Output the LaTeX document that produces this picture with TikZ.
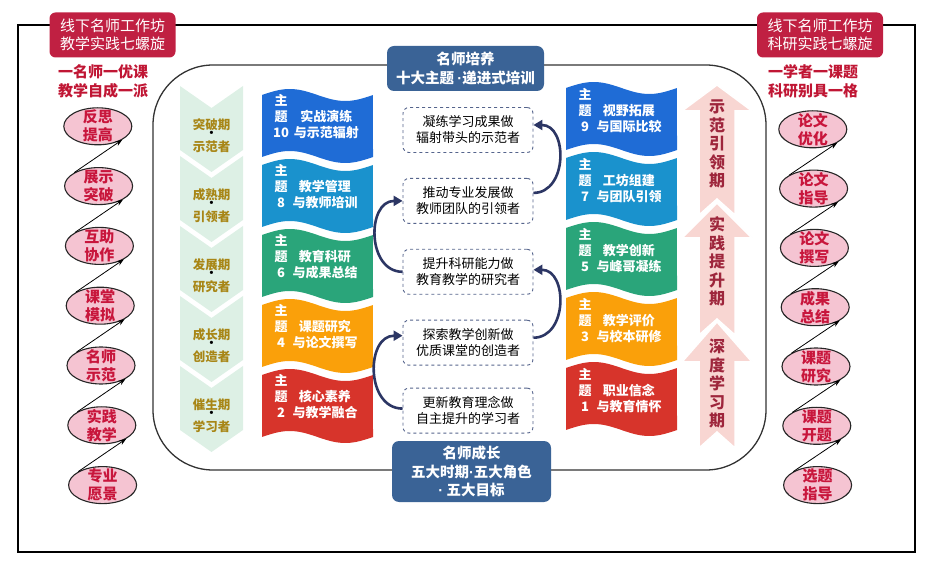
\documentclass[tikz,border=0pt]{standalone}
\usepackage{fontspec}
\setmainfont{Noto Sans CJK SC}
\newfontfamily\latinfont{Liberation Sans}
\usetikzlibrary{arrows.meta, positioning, shapes.geometric}

\definecolor{labelred}{RGB}{192,32,66}
\definecolor{mottored}{RGB}{192,22,52}
\definecolor{ellpink}{RGB}{245,196,210}
\definecolor{ellred}{RGB}{200,22,60}
\definecolor{titleblue}{RGB}{58,99,150}
\definecolor{stagemint}{RGB}{221,240,229}
\definecolor{stagegold}{RGB}{168,134,22}
\definecolor{goalline}{RGB}{85,100,140}
\definecolor{climbnavy}{RGB}{44,54,100}
\definecolor{risepink}{RGB}{248,214,210}
\definecolor{risered}{RGB}{158,38,60}
\definecolor{topicblue}{RGB}{31,108,214}
\definecolor{topiccyan}{RGB}{26,146,205}
\definecolor{topicgreen}{RGB}{42,165,122}
\definecolor{topicorange}{RGB}{250,160,10}
\definecolor{topicred}{RGB}{215,52,43}

% narrow middle dot
\newcommand{\mdot}{\begingroup\latinfont\bfseries ·\endgroup}
% small black bullet between the stage lines
\newcommand{\sdot}{\smash{\textcolor{black}{\latinfont\fontsize{11}{11}\selectfont •}}}
% chevron of the growth column, #1 = top y
\newcommand{\stagechev}[1]{%
  \fill[stagemint] (180,#1) -- (211.5,#1+22) -- (243,#1) -- (243,#1+64)
    -- (211.5,#1+86) -- (180,#1+64) -- cycle;}
% wavy topic flag, #1 = left x, #2 = top y, #3 = colour
\newcommand{\topicflag}[3]{%
  \fill[#3] plot[domain=0:1,samples=40] ({#1+111*\x},{#2-6*sin(360*\x)})
    -- plot[domain=1:0,samples=40] ({#1+111*\x},{#2+62-6*sin(360*\x)}) -- cycle;}
% rising arrow, #1 = tip, #2 = head base, #3 = shaft bottom
\newcommand{\risearrow}[3]{%
  \filldraw[risepink, draw=white, line width=1.5pt] (717,#1) -- (752,#2) -- (735,#2)
    -- (735,#3) -- (717,#3-16) -- (699,#3) -- (699,#2) -- (682,#2) -- cycle;}

\begin{document}
\begin{tikzpicture}[x=1pt, y=-1pt,
    redtag/.style={rectangle, rounded corners=6pt, fill=labelred, text=white, align=center,
      minimum width=126pt, minimum height=45pt, font=\fontsize{15}{18}\selectfont},
    motto/.style={align=center, text=mottored, font=\fontsize{15}{19}\selectfont\bfseries},
    ell/.style={ellipse, draw=black!85, line width=1.1pt, fill=ellpink,
      minimum width=68pt, minimum height=37pt, inner sep=0pt},
    elltxt/.style={align=center, text=ellred, font=\fontsize{15}{18}\selectfont\bfseries},
    link/.style={-{Stealth[length=7pt,width=5pt]}, line width=0.8pt},
    titlebox/.style={rectangle, rounded corners=7pt, fill=titleblue, text=white, align=center,
      font=\fontsize{14.5}{18.5}\selectfont\bfseries},
    goalbox/.style={rectangle, rounded corners=6pt, draw=goalline, dashed, line width=0.9pt,
      fill=white, align=center, minimum width=130pt, minimum height=45pt,
      font=\fontsize{13}{16}\selectfont},
    climbarrow/.style={-{Triangle[length=9pt,width=10pt]}, line width=2.6pt, climbnavy},
    stagetxt/.style={align=center, text=stagegold, font=\fontsize{12.5}{15}\selectfont\bfseries},
    topictxt/.style={text=white, font=\fontsize{13}{15}\selectfont\bfseries, inner sep=0pt},
    risetxt/.style={align=center, text=risered, font=\fontsize{16}{18.5}\selectfont\bfseries}
  ]
  \useasboundingbox (0,0) rectangle (927,569);
  \draw[line width=2pt] (18,25) rectangle (915,552);
  \draw[line width=1.3pt, black!80, rounded corners=60pt] (153,65) rectangle (766,470);

  % top tags
  \node[redtag] (tagl) at (112.5,35) {线下名师工作坊\\教学实践七螺旋};
  \node[redtag] (tagr) at (820,35) {线下名师工作坊\\科研实践七螺旋};
  \node[motto] (mottol) at (103,81) {一名师一优课\\教学自成一派};
  \node[motto] (mottor) at (813,81) {一学者一课题\\科研别具一格};

  % spirals
  \foreach \t [count=\i] in {{反思\\提高},{展示\\突破},{互助\\协作},{课堂\\模拟},{名师\\示范},{实践\\教学},{专业\\愿景}}
    \node[ell, label={[elltxt]center:\t}] (l\i) at ({97+0.8*\i},{66.5+59.8*\i}) {};
  \foreach \t [count=\i] in {{论文\\优化},{论文\\指导},{论文\\撰写},{成果\\总结},{课题\\研究},{课题\\开题},{选题\\指导}}
    \node[ell, label={[elltxt]center:\t}] (r\i) at ({812+0.8*\i},{70+59.3*\i}) {};
  \foreach \i [evaluate=\i as \j using int(\i+1)] in {1,...,6} {
    \draw[link] (l\j.north west) -- (l\i.south east);
    \draw[link] (r\j.north west) -- (r\i.south east);
  }

  % growth stages
  \foreach \t [count=\i] in {{突破期\\[-8pt]\sdot\\示范者},{成熟期\\[-8pt]\sdot\\引领者},
      {发展期\\[-8pt]\sdot\\研究者},{成长期\\[-8pt]\sdot\\创造者},{催生期\\[-8pt]\sdot\\学习者}} {
    \stagechev{16+70*\i}
    \node[stagetxt] (s\i) at (211.5,{66+70*\i}) {\t};
  }

  % topic flags
  \topicflag{262}{95}{topicblue}
  \topicflag{262}{165}{topiccyan}
  \topicflag{262}{235}{topicgreen}
  \topicflag{262}{305}{topicorange}
  \topicflag{262}{375}{topicred}
  \topicflag{566}{88}{topicblue}
  \topicflag{566}{158}{topiccyan}
  \topicflag{566}{228}{topicgreen}
  \topicflag{566}{298}{topicorange}
  \topicflag{566}{368}{topicred}
  \node[topictxt] (t10) at (316,118) {\begin{tabular}{@{}c@{\hspace{5pt}}c@{}}主&\\题&实战演练\\10&与示范辐射\end{tabular}};
  \node[topictxt] (t8) at (316,188) {\begin{tabular}{@{}c@{\hspace{5pt}}c@{}}主&\\题&教学管理\\8&与教师培训\end{tabular}};
  \node[topictxt] (t6) at (316,258) {\begin{tabular}{@{}c@{\hspace{5pt}}c@{}}主&\\题&教育科研\\6&与成果总结\end{tabular}};
  \node[topictxt] (t4) at (316,328) {\begin{tabular}{@{}c@{\hspace{5pt}}c@{}}主&\\题&课题研究\\4&与论文撰写\end{tabular}};
  \node[topictxt] (t2) at (316,398) {\begin{tabular}{@{}c@{\hspace{5pt}}c@{}}主&\\题&核心素养\\2&与教学融合\end{tabular}};
  \node[topictxt] (t9) at (620,112) {\begin{tabular}{@{}c@{\hspace{5pt}}c@{}}主&\\题&视野拓展\\9&与国际比较\end{tabular}};
  \node[topictxt] (t7) at (620,182) {\begin{tabular}{@{}c@{\hspace{5pt}}c@{}}主&\\题&工坊组建\\7&与团队引领\end{tabular}};
  \node[topictxt] (t5) at (620,252) {\begin{tabular}{@{}c@{\hspace{5pt}}c@{}}主&\\题&教学创新\\5&与峰哥凝练\end{tabular}};
  \node[topictxt] (t3) at (620,322) {\begin{tabular}{@{}c@{\hspace{5pt}}c@{}}主&\\题&教学评价\\3&与校本研修\end{tabular}};
  \node[topictxt] (t1) at (620,392) {\begin{tabular}{@{}c@{\hspace{5pt}}c@{}}主&\\题&职业信念\\1&与教育情怀\end{tabular}};

  % goals
  \node[goalbox] (g1) at (468,130) {凝练学习成果做\\辐射带头的示范者};
  \node[goalbox, below=25pt of g1] (g2) {推动专业发展做\\教师团队的引领者};
  \node[goalbox, below=25pt of g2] (g3) {提升科研能力做\\教育教学的研究者};
  \node[goalbox, below=25pt of g3] (g4) {探索教学创新做\\优质课堂的创造者};
  \node[goalbox, below=22pt of g4] (g5) {更新教育理念做\\自主提升的学习者};
  \draw[climbarrow] ([yshift=2pt]g5.west) to[out=180,in=180,looseness=1.3] ([yshift=7pt]g4.west);
  \draw[climbarrow] ([yshift=5pt]g4.east) to[out=0,in=0,looseness=1.3] ([yshift=2pt]g3.east);
  \draw[climbarrow] (g3.west) to[out=180,in=180,looseness=1.3] (g2.west);
  \draw[climbarrow] ([yshift=8pt]g2.east) to[out=0,in=0,looseness=1.3] ([yshift=5pt]g1.east);

  % rising periods
  \risearrow{85}{111}{215}
  \risearrow{203}{238}{335}
  \risearrow{322}{362}{448}
  \node[risetxt] (p1) at (717,144) {示\\范\\引\\领\\期};
  \node[risetxt] (p2) at (717,261.5) {实\\践\\提\\升\\期};
  \node[risetxt] (p3) at (717,384) {深\\度\\学\\习\\期};

  % titles
  \node[titlebox, minimum width=157pt, minimum height=45pt] (top) at (465.5,68.5) {名师培养\\十大主题 \mdot 递进式培训};
  \node[titlebox, minimum width=159pt, minimum height=61pt] (bottom) at (471.5,471.5) {名师成长\\五大时期\mdot 五大角色\\\mdot\ 五大目标};
\end{tikzpicture}
\end{document}
